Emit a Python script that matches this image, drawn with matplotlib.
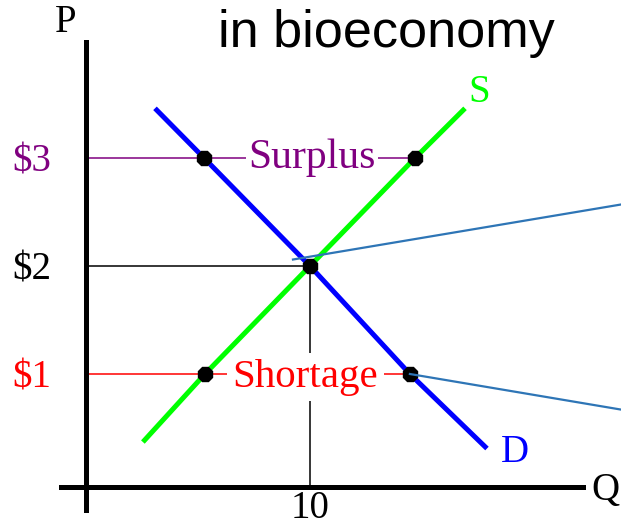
import numpy as np
import matplotlib
matplotlib.use('Agg')
import matplotlib.pyplot as plt

# price levels shown on the P axis
prices = [1, 2, 3]
price_labels = ['$1', '$2', '$3']
price_colors = ['#ff0000', '#000000', '#800080']

# equilibrium
eq_q = 10
eq_p = 2

# quantities at $3 (surplus) and $1 (shortage)
surplus_qd, surplus_qs = 5.27, 14.69
shortage_qs, shortage_qd = 5.31, 14.46

# curves
demand_q = [3.08, surplus_qd, eq_q, shortage_qd, 17.9]
demand_p = [3.46, 3, eq_p, 1, 0.31]
supply_q = [2.54, shortage_qs, eq_q, surplus_qs, 16.92]
supply_p = [0.37, 1, eq_p, 3, 3.46]

# callout lines running off to the right
callout1_q = [9.24, 23.9]
callout1_p = [2.06, 2.57]
callout2_q = [shortage_qd, 23.9]
callout2_p = [1.0, 0.67]

# pixel -> data helpers (86px = Q0, 22.4px per unit; 482px = P0, 108px per unit)
def qx(xp):
    return (xp - 86) / 22.4

def py(yp):
    return (482 - yp) / 108

fig = plt.figure(figsize=(6.21, 5.26), dpi=100)
ax = fig.add_axes([0, 0, 1, 1])
ax.set_xlim(qx(0), qx(621))
ax.set_ylim(py(526), py(0))

serif = 'Liberation Serif'
fs = 28

# axes as spines
for s in ['top', 'right']:
    ax.spines[s].set_visible(False)
ax.spines['left'].set_position(('data', 0))
ax.spines['left'].set_bounds(py(510), py(42))
ax.spines['bottom'].set_position(('data', py(487)))
ax.spines['bottom'].set_bounds(qx(61), qx(583))
for s in ['left', 'bottom']:
    ax.spines[s].set_linewidth(3.6)
    ax.spines[s].set_color('black')

ax.set_yticks(prices)
ax.set_yticklabels(price_labels, fontfamily=serif, fontsize=fs)
for lab, c in zip(ax.get_yticklabels(), price_colors):
    lab.set_color(c)
ax.set_xticks([eq_q])
ax.set_xticklabels([str(eq_q)], fontfamily=serif, fontsize=fs)
ax.tick_params(axis='y', length=0, pad=25)
ax.tick_params(axis='x', length=0, pad=2)

# guide lines
ax.plot([0, surplus_qs], [3, 3], color='#800080', lw=1.1, zorder=1)
ax.plot([0, eq_q], [eq_p, eq_p], color='black', lw=1.1, zorder=1)
ax.plot([0, shortage_qd], [1, 1], color='#ff0000', lw=1.1, zorder=1)
ax.plot([eq_q, eq_q], [py(487), eq_p], color='black', lw=1.1, zorder=1)

# labels on the guide lines
ax.text((surplus_qd + surplus_qs) / 2 + 0.1, 3, 'Surplus', color='#800080',
        fontfamily=serif, fontsize=30, ha='center', va='center', zorder=2,
        bbox=dict(facecolor='white', edgecolor='none', pad=1.5))
ax.text((shortage_qs + shortage_qd) / 2 - 0.1, py(377), 'Shortage', color='#ff0000',
        fontfamily=serif, fontsize=29.5, ha='center', va='center', zorder=2,
        bbox=dict(facecolor='white', edgecolor='none', pad=4))

# curves
ax.plot(demand_q, demand_p, color='#0000ff', lw=3.6, solid_capstyle='butt', zorder=3)
ax.plot(supply_q, supply_p, color='#00ff00', lw=3.6, solid_capstyle='butt', zorder=3)

# callouts
ax.plot(callout1_q, callout1_p, color='#2e75b6', lw=1.6, zorder=5)
ax.plot(callout2_q, callout2_p, color='#2e75b6', lw=1.6, zorder=5)

# points
pts_q = [surplus_qd, surplus_qs, eq_q, shortage_qs, shortage_qd]
pts_p = [3, 3, eq_p, 1, 1]
ax.plot(pts_q, pts_p, ls='none', marker='8', ms=11.5, color='black', zorder=4)

# curve / axis letters
ax.text(qx(479), py(92), 'S', color='#00ff00', fontfamily=serif, fontsize=fs,
        ha='center', va='center')
ax.text(qx(515), py(452), 'D', color='#0000ff', fontfamily=serif, fontsize=fs,
        ha='center', va='center')
ax.text(qx(605), py(490), 'Q', color='black', fontfamily=serif, fontsize=fs,
        ha='center', va='center')
ax.text(qx(66), py(22), 'P', color='black', fontfamily=serif, fontsize=fs,
        ha='center', va='center')

ax.text(qx(218), py(47), 'in bioeconomy', fontfamily='Liberation Sans',
        fontsize=37.5, ha='left', va='baseline')

fig.savefig('out.png', dpi=100)
